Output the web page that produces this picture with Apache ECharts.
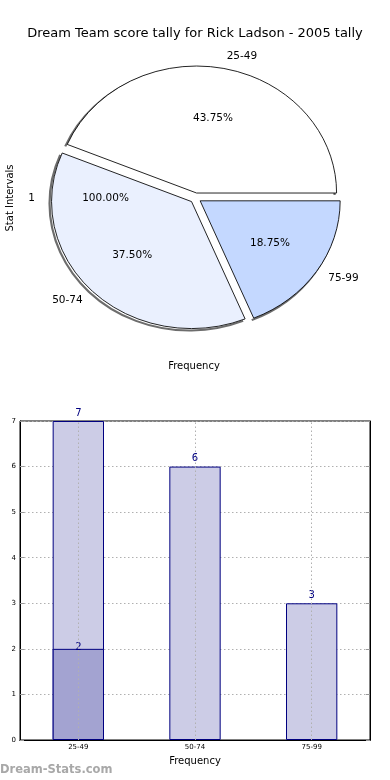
<!DOCTYPE html>
<html>
<head>
<meta charset="utf-8">
<script src="https://cdn.jsdelivr.net/npm/echarts@6/dist/echarts.min.js"></script>
<style>
html,body{margin:0;padding:0;background:#fff;}
#chart{width:390px;height:780px;}
</style>
</head>
<body>
<div id="chart"></div>
<script>
// ---------- data ----------
const titleText = 'Dream Team score tally for Rick Ladson - 2005 tally';
const pieCategories = ['25-49', '50-74', '75-99'];
const pieValues = [7, 6, 3];
const phantomCategories = ['1'];
const phantomValues = [1];
const barCategories = ['25-49', '50-74', '75-99'];
const barValues = [7, 6, 3];
const overlayValues = [2, null, null];
const yTicks = [0, 1, 2, 3, 4, 5, 6, 7];

// ---------- styles / layout ----------
const FONT = 'DejaVu Sans';
const pieColors = ['#ffffff', '#eaf0fe', '#c4d8ff'];
const CX = 195.5, CY = 198, RX = 140, RY = 127, EXPLODE = 0.04;
const LABEL_DIST = 1.1, PCT_DIST = 0.6, PHANTOM_R = 150;
const SH_DX = -2, SH_DY = 2;

const total = pieValues.reduce((a, b) => a + b, 0);
const cum = [0];
pieValues.forEach(v => cum.push(cum[cum.length - 1] + v));

function geom(i) {
  const a1 = cum[i] / total * Math.PI * 2;
  const a2 = cum[i + 1] / total * Math.PI * 2;
  const mid = (a1 + a2) / 2;
  return {
    a1, a2, mid,
    x: CX + EXPLODE * RX * Math.cos(mid),
    y: CY - EXPLODE * RY * Math.sin(mid)
  };
}

function sectorEl(g, ox, oy, style, type) {
  return {
    type: 'group',
    x: g.x + ox, y: g.y + oy,
    scaleY: RY / RX,
    children: [{
      type: type || 'sector',
      shape: { cx: 0, cy: 0, r: RX, r0: 0, startAngle: -g.a2, endAngle: -g.a1, clockwise: true },
      style: style
    }]
  };
}

function renderShadow(params, api) {
  const g = geom(params.dataIndex);
  return sectorEl(g, SH_DX, SH_DY, { fill: null, stroke: 'rgba(60,60,60,0.75)', lineWidth: 2.2 }, 'arc');
}

function renderSlice(params, api) {
  const i = params.dataIndex;
  const v = api.value(0);
  const g = geom(i);
  const c = Math.cos(g.mid), s = Math.sin(g.mid);
  const pct = (v / total * 100).toFixed(2) + '%';
  return {
    type: 'group',
    children: [
      sectorEl(g, 0, 0, { fill: pieColors[i], stroke: '#000', lineWidth: 0.9 }),
      {
        type: 'text', x: g.x + LABEL_DIST * RX * c, y: g.y - LABEL_DIST * RY * s,
        style: { text: pieCategories[i], fill: '#000', font: '10.5px "' + FONT + '"',
                 align: c > 0 ? 'left' : 'right', verticalAlign: 'middle' }
      },
      {
        type: 'text', x: g.x + PCT_DIST * RX * c, y: g.y - PCT_DIST * RY * s,
        style: { text: pct, fill: '#000', font: '10.5px "' + FONT + '"',
                 align: 'center', verticalAlign: 'middle' }
      }
    ]
  };
}

function renderPhantom(params, api) {
  const v = api.value(0);
  const tot = phantomValues.reduce((a, b) => a + b, 0);
  const mid = Math.PI;
  const c = Math.cos(mid), s = Math.sin(mid);
  return {
    type: 'group',
    children: [
      {
        type: 'text', x: CX + 1.07 * PHANTOM_R * c, y: CY - 1.07 * PHANTOM_R * s,
        style: { text: phantomCategories[params.dataIndex], fill: '#000', font: '10.5px "' + FONT + '"',
                 align: 'right', verticalAlign: 'middle' }
      },
      {
        type: 'text', x: CX + PCT_DIST * PHANTOM_R * c, y: CY - PCT_DIST * PHANTOM_R * s,
        style: { text: (v / tot * 100).toFixed(2) + '%', fill: '#000', font: '10.5px "' + FONT + '"',
                 align: 'center', verticalAlign: 'middle' }
      }
    ]
  };
}

const chart = echarts.init(document.getElementById('chart'), null, { renderer: 'canvas' });
const gridColor = '#b0b0b0';

chart.setOption({
  animation: false,
  backgroundColor: '#fff',
  textStyle: { fontFamily: FONT },
  title: {
    text: titleText, left: 'center', top: 22,
    textStyle: { fontSize: 13, fontWeight: 'normal', color: '#000', fontFamily: FONT }
  },
  graphic: [
    { type: 'text', x: 10, y: 198, rotation: Math.PI / 2,
      style: { text: 'Stat Intervals', font: '10px "' + FONT + '"', fill: '#000', align: 'center', verticalAlign: 'middle' } },
    { type: 'text', x: 194, y: 366,
      style: { text: 'Frequency', font: '10px "' + FONT + '"', fill: '#000', align: 'center', verticalAlign: 'middle' } },
    { type: 'text', x: 0, y: 770,
      style: { text: 'Dream-Stats.com', font: 'bold 11.5px "' + FONT + '"', fill: '#a8a8a8', align: 'left', verticalAlign: 'middle' } }
  ],
  grid: {
    left: 20, right: 20, top: 421, bottom: 40,
    containLabel: false, outerBoundsMode: 'none',
    show: true, borderColor: '#000', borderWidth: 1, backgroundColor: 'transparent'
  },
  xAxis: [{
    type: 'category', data: barCategories, position: 'bottom',
    axisLine: { lineStyle: { color: '#000' } },
    axisTick: { inside: true, alignWithLabel: true, length: 4, lineStyle: { color: '#999' } },
    axisLabel: { fontSize: 7, color: '#000', margin: 4, fontFamily: FONT },
    splitLine: { show: false },
    name: 'Frequency', nameLocation: 'middle', nameGap: 16,
    nameTextStyle: { fontSize: 10, color: '#000', fontFamily: FONT }
  }, {
    type: 'category', data: barCategories, position: 'top',
    axisLine: { lineStyle: { color: '#000' } },
    axisTick: { inside: true, alignWithLabel: true, length: 4, lineStyle: { color: '#999' } },
    axisLabel: { show: false }, splitLine: { show: false }
  }],
  yAxis: [{
    type: 'value', min: 0, max: 7, interval: 1, position: 'left',
    axisLine: { show: true, lineStyle: { color: '#000' } },
    axisTick: { show: true, inside: true, length: 4, lineStyle: { color: '#999' } },
    axisLabel: { fontSize: 7, color: '#000', margin: 4, fontFamily: FONT,
                 formatter: v => yTicks.includes(v) ? String(v) : '' },
    splitLine: { show: true, lineStyle: { color: gridColor, type: [1.5, 2.5], width: 1 } },
    name: 'Stat Intervals', nameLocation: 'middle', nameGap: 12, nameRotate: 90,
    nameTextStyle: { fontSize: 10, color: '#000', fontFamily: FONT }
  }, {
    type: 'value', min: 0, max: 7, interval: 1, position: 'right',
    axisLine: { show: true, lineStyle: { color: '#000' } },
    axisTick: { show: true, inside: true, length: 4, lineStyle: { color: '#999' } },
    axisLabel: { show: false }, splitLine: { show: false }
  }],
  series: [
    { type: 'custom', coordinateSystem: 'none', data: pieValues, renderItem: renderShadow, silent: true, z: 1 },
    { type: 'custom', coordinateSystem: 'none', data: pieValues, renderItem: renderSlice, silent: true, z: 2 },
    { type: 'custom', coordinateSystem: 'none', data: phantomValues, renderItem: renderPhantom, silent: true, z: 2 },
    {
      type: 'bar', data: barValues, barWidth: '44%', barGap: '-100%', z: 3,
      itemStyle: { color: 'rgb(204,204,230)', borderColor: '#000080', borderWidth: 1 },
      label: { show: true, position: 'top', distance: 3, color: '#000080', fontSize: 10, fontFamily: FONT },
      markLine: {
        silent: true, symbol: 'none', animation: false,
        label: { show: false },
        lineStyle: { color: gridColor, type: [1.5, 2.5], width: 1 },
        data: barCategories.map(c => ({ xAxis: c }))
      }
    },
    {
      type: 'bar', data: overlayValues, barWidth: '44%', barGap: '-100%', z: 4,
      itemStyle: { color: 'rgb(163,163,209)', borderColor: '#000080', borderWidth: 1 },
      label: { show: true, position: 'top', distance: -4, color: '#000080', fontSize: 10, fontFamily: FONT }
    }
  ]
});
</script>
</body>
</html>
